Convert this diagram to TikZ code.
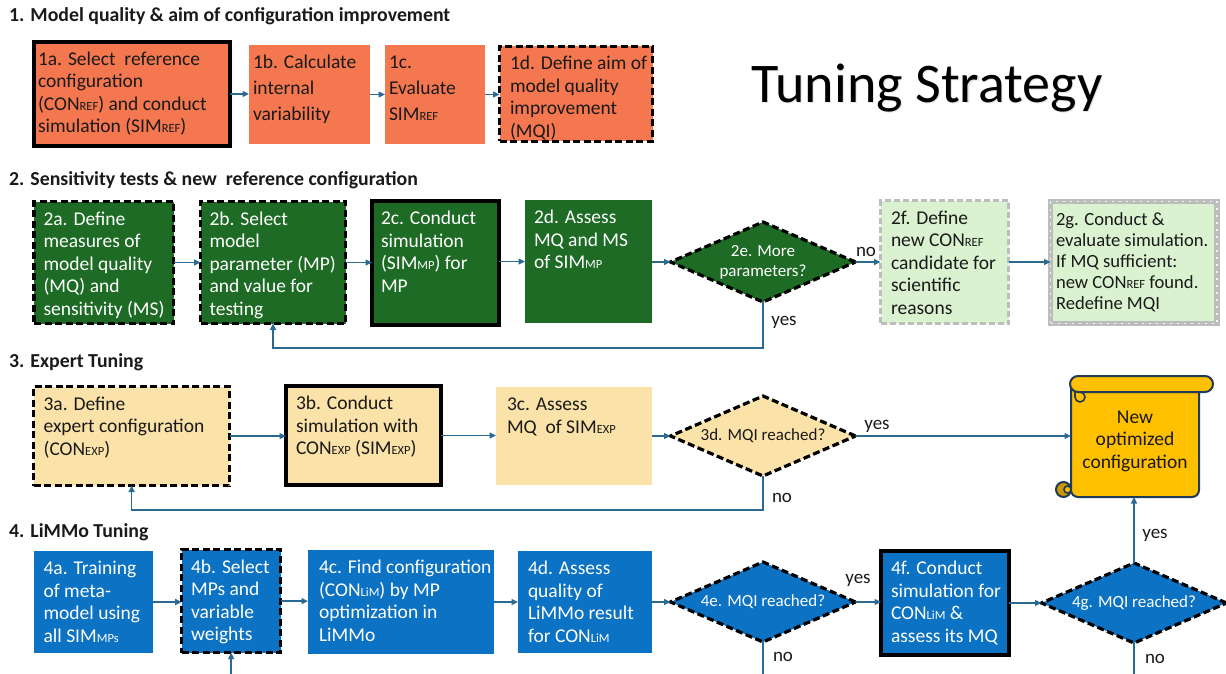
\documentclass[tikz,border=0pt]{standalone}
\usepackage{fontspec}
\setmainfont{Carlito}
\usetikzlibrary{shapes.geometric,arrows.meta,calc}
\definecolor{coral}{HTML}{F4774F}
\definecolor{dgreen}{HTML}{1D6B24}
\definecolor{lgreen}{HTML}{DAF2D0}
\definecolor{tan}{HTML}{FAE2A8}
\definecolor{lblue}{HTML}{0C72C4}
\definecolor{arrowc}{HTML}{2A6A92}
\definecolor{grayb}{HTML}{BDBDBD}
\definecolor{gold}{HTML}{FFC000}
\definecolor{curl}{HTML}{C99700}
\definecolor{navy}{HTML}{1F3B57}
\definecolor{dtext}{HTML}{1A1A1A}
\newcommand\sbs[1]{{\fontsize{12.5}{12}\selectfont #1}}
\newcommand\fs{\rule{0pt}{15pt}}
\newcommand\fbx[9]{%
  \node[box,#1,anchor=north west,minimum width=#6pt,minimum height=#7pt] (#3) at (#4,#5) {};
  \node[txt,#2,anchor=north west] (#3t) at ([xshift=#8pt,yshift=-8.5pt]#3.north west) {\fs#9};
}
\begin{document}
\begin{tikzpicture}[x=1pt,y=-1pt,
  box/.style={rectangle,inner sep=0pt,outer sep=0pt},
  thickb/.style={draw=black,line width=4.5pt},
  dashb/.style={draw=black,line width=3.2pt,dash pattern=on 7pt off 3.5pt},
  txt/.style={inner sep=0pt,outer sep=0pt,align=left,font=\fontsize{19.5}{22.5}\selectfont},
  wtxt/.style={text=white},
  dtxt/.style={text=dtext},
  arr/.style={draw=arrowc,line width=1.5pt,-{Triangle[length=6.5pt,width=6pt]}},
  ln/.style={draw=arrowc,line width=1.5pt},
  lbl/.style={font=\fontsize{19}{20}\selectfont,inner sep=0pt,text=dtext},
  dia/.style={diamond,aspect=2.3,minimum width=185pt,minimum height=80pt,inner sep=0pt,outer sep=0pt,
    draw=black,line width=3.2pt,dash pattern=on 7pt off 3.5pt,align=center,font=\fontsize{17}{20}\selectfont},
  title/.style={font=\bfseries\fontsize{19.8}{21}\selectfont,anchor=west,inner sep=0pt,text=dtext}
]
\useasboundingbox (0,0) rectangle (1226,674);
\fill[white] (0,0) rectangle (1226,674);

% titles
\node[title] (t1) at (9,16) {1. Model quality \& aim of configuration improvement};
\node[title] (t2) at (9,180) {2. Sensitivity tests \& new\ \ reference configuration};
\node[title] (t3) at (9,362) {3. Expert Tuning};
\node[title] (t4) at (9,532) {4. LiMMo Tuning};
\node[font=\fontsize{56}{64}\selectfont,inner sep=0pt,text=black!30,opacity=0.35] (tss) at (928.2,89.2) {Tuning Strategy};
\node[font=\fontsize{56}{64}\selectfont,inner sep=0pt] (ts) at (927,88) {Tuning Strategy};

% section 1
\fbx{fill=coral,thickb}{dtxt}{a1}{34}{42}{196}{104}{4}{1a. Select\ \ reference\\configuration\\(CON\sbs{REF}) and conduct\\simulation (SIM\sbs{REF})}
\fbx{fill=coral}{dtxt,font=\fontsize{19.5}{26}\selectfont}{b1}{249}{45}{121}{99}{4}{1b. Calculate\\internal\\variability}
\fbx{fill=coral}{dtxt,font=\fontsize{19.5}{26}\selectfont}{c1}{385}{45}{100}{99}{4}{1c.\\Evaluate\\SIM\sbs{REF}}
\fbx{fill=coral,dashb}{dtxt}{d1}{499.5}{46.5}{153}{95}{10.5}{1d. Define aim of\\model quality\\improvement\\(MQI)}
\draw[arr] (a1.east) -- (a1.east -| b1.west);
\draw[arr] (b1.east) -- (b1.east -| c1.west);
\draw[arr] (c1.east) -- (c1.east -| d1.west);

% section 2
\fbx{fill=dgreen,dashb}{wtxt}{a2}{34}{201.5}{139.5}{122}{9.5}{2a. Define\\measures of\\model quality\\(MQ) and\\sensitivity (MS)}
\fbx{fill=dgreen,dashb}{wtxt}{b2}{200.5}{201.5}{145}{122}{9}{2b. Select\\model\\parameter (MP)\\and value for\\testing}
\fbx{fill=dgreen,thickb}{wtxt}{c2}{372}{201}{127}{124}{9}{2c. Conduct\\simulation\\(SIM\sbs{MP}) for\\MP}
\fbx{fill=dgreen}{wtxt}{d2}{525}{200}{127}{123}{9}{2d. Assess\\MQ and MS\\of SIM\sbs{MP}}
\node[dia,fill=dgreen,text=white] (e2) at (763,262) {2e. More\\parameters?};
\fbx{fill=lgreen,draw=grayb,line width=3pt,dash pattern=on 6pt off 3pt}{dtxt}{f2}{880.5}{200.5}{128}{123}{10.5}{2f. Define\\new CON\sbs{REF}\\candidate for\\scientific\\reasons}
\fbx{fill=lgreen,draw=grayb,line width=5.5pt,postaction={draw=white!80!grayb,line width=1.3pt,dash pattern=on 2pt off 5pt}}{dtxt,font=\fontsize{18.6}{21}\selectfont}{g2}{1050.5}{201.5}{166.5}{122}{5.5}{2g. Conduct \&\\evaluate simulation.\\If MQ sufficient:\\new CON\sbs{REF} found.\\Redefine MQI}
\draw[arr] (a2.east) -- (a2.east -| b2.west);
\draw[arr] (b2.east) -- (b2.east -| c2.west);
\draw[arr] (c2.east |- d2.east) -- (d2.west);
\draw[arr] (e2.west -| d2.east) -- (e2.west);
\draw[arr] (e2.east) -- (e2.east -| f2.west);
\draw[arr] (f2.east) -- (f2.east -| g2.west);
\coordinate (fb2) at (0,348);
\draw[arr] (e2.south) -- (e2.south |- fb2) -| (b2.south);
\node[lbl] (no2) at (866,252) {no};
\node[lbl] (yes2) at (784,322) {yes};

% section 3
\fbx{fill=tan,dashb}{dtxt}{a3}{33.6}{386.6}{196}{99}{10}{3a. Define\\expert configuration\\(CON\sbs{EXP})}
\fbx{fill=tan,thickb}{dtxt}{b3}{286}{386}{155}{99}{10}{3b. Conduct\\simulation with\\CON\sbs{EXP} (SIM\sbs{EXP})}
\fbx{fill=tan}{dtxt}{c3}{496}{387}{156}{98}{11}{3c. Assess\\MQ\ \ of SIM\sbs{EXP}}
\node[dia,fill=tan,text=dtext] (d3) at (763,436) {3d. MQI reached?};
\draw[arr] (a3.east) -- (a3.east -| b3.west);
\draw[arr] (b3.east) -- (b3.east -| c3.west);
\draw[arr] (d3.west -| c3.east) -- (d3.west);

% new optimized configuration (scroll)
\node[box,minimum width=128pt,minimum height=121pt,anchor=north west] (nc) at (1071,376) {};
\filldraw[fill=gold,draw=navy,line width=2pt,rounded corners=7pt] (1071,388) -- (1071,497) -- (1199,497) -- (1199,388);
\filldraw[fill=gold,draw=navy,line width=2pt,rounded corners=8pt] (1070,376) rectangle (1213,392);
\draw[navy,line width=1.6pt] (1080,392) arc[start angle=-90,end angle=180,radius=5] -- (1075,392);
\filldraw[fill=curl,draw=navy,line width=2pt] (1063.5,489.5) circle[radius=7.5];
\draw[navy,line width=1.6pt,fill=gold] (1071,489.5) arc[start angle=0,end angle=180,radius=3.5] arc[start angle=180,end angle=360,radius=3.5];
\node[align=center,font=\fontsize{19.5}{22.5}\selectfont,text=dtext,inner sep=0pt] (nct) at (1135,441) {New\\optimized\\configuration};
\draw[arr] (d3.east) -- (d3.east -| nc.west);
\coordinate (fb3) at (0,510);
\draw[arr] (d3.south) -- (d3.south |- fb3) -| (a3.south);
\node[lbl] (yes3) at (877,426) {yes};
\node[lbl] (no3) at (782,498) {no};

% section 4
\fbx{fill=lblue}{wtxt}{a4}{33.6}{551}{119.5}{102}{10}{4a. Training\\of meta-\\model using\\all SIM\sbs{MPs}}
\fbx{fill=lblue,dashb}{wtxt}{b4}{181.6}{549.6}{99}{103}{9.5}{4b. Select\\MPs and\\variable\\weights}
\fbx{fill=lblue}{wtxt}{c4}{308}{550}{186}{104}{11}{4c. Find configuration\\(CON\sbs{LiM}) by MP\\optimization in\\LiMMo}
\fbx{fill=lblue}{wtxt}{d4}{518}{551}{134}{102}{10}{4d. Assess\\quality of\\LiMMo result\\for CON\sbs{LiM}}
\node[dia,fill=lblue,text=white] (e4) at (763,602) {4e. MQI reached?};
\fbx{fill=lblue,thickb}{wtxt}{f4}{881}{551}{128}{104}{10}{4f. Conduct\\simulation for\\CON\sbs{LiM} \&\\assess its MQ}
\node[dia,fill=lblue,text=white] (g4) at (1134,603) {4g. MQI reached?};
\draw[arr] (a4.east) -- (a4.east -| b4.west);
\draw[arr] (b4.east) -- (b4.east -| c4.west);
\draw[arr] (c4.east) -- (c4.east -| d4.west);
\draw[arr] (e4.west -| d4.east) -- (e4.west);
\draw[arr] (e4.east) -- (e4.east -| f4.west);
\draw[arr] (f4.east) -- (f4.east -| g4.west);
\draw[arr] (g4.north) -- (g4.north |- nc.south);
\coordinate (bot) at (0,674);
\draw[ln] (e4.south) -- (e4.south |- bot);
\draw[ln] (g4.south) -- (g4.south |- bot);
\draw[arr] (b4.south |- bot) -- (b4.south);
\node[lbl] (yes4e) at (858,580) {yes};
\node[lbl] (no4e) at (783,657) {no};
\node[lbl] (yes4g) at (1155,535) {yes};
\node[lbl] (no4g) at (1155,659) {no};
\end{tikzpicture}
\end{document}
